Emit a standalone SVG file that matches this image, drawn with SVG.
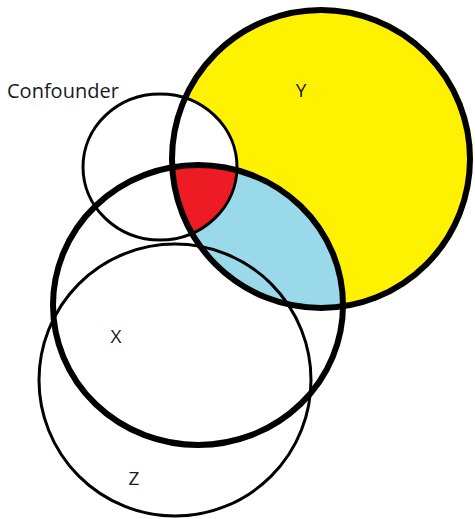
<svg xmlns="http://www.w3.org/2000/svg" width="475" height="519" viewBox="0 0 475 519">
<style>
.lbl{font-family:"Open Sans","Liberation Sans",sans-serif;font-size:19px;fill:#1a1a1a}
.big{font-size:20px}
.thin{fill:none;stroke:#000;stroke-width:3}
.thick{fill:none;stroke:#000;stroke-width:6}
</style>
<defs>
<clipPath id="clipY"><circle cx="321" cy="159" r="149"/></clipPath>
<clipPath id="clipX"><ellipse cx="198" cy="305" rx="145" ry="140"/></clipPath>
</defs>
<rect width="475" height="519" fill="#fff"/>
<g id="fills">
<circle cx="321" cy="159" r="149" fill="#fff200"/>
<g clip-path="url(#clipY)">
<ellipse cx="198" cy="305" rx="145" ry="140" fill="#99d9ea"/>
<ellipse cx="160" cy="167" rx="77" ry="73" fill="#fff"/>
<g clip-path="url(#clipX)">
<ellipse cx="160" cy="167" rx="77" ry="73" fill="#ed1c24"/>
</g>
</g>
</g>
<g id="confounder">
<ellipse class="thin" cx="160" cy="167" rx="77" ry="73"/>
<text class="lbl big" x="7" y="98">Confounder</text>
</g>
<g id="z">
<circle class="thin" cx="175" cy="380" r="136"/>
<text class="lbl" x="134" y="485" text-anchor="middle">Z</text>
</g>
<g id="x">
<ellipse class="thick" cx="198" cy="305" rx="145" ry="140"/>
<text class="lbl" x="116" y="343" text-anchor="middle">X</text>
</g>
<g id="y">
<circle class="thick" cx="321" cy="159" r="149"/>
<text class="lbl" x="301" y="97" text-anchor="middle">Y</text>
</g>
<g id="connectors"></g>
</svg>
